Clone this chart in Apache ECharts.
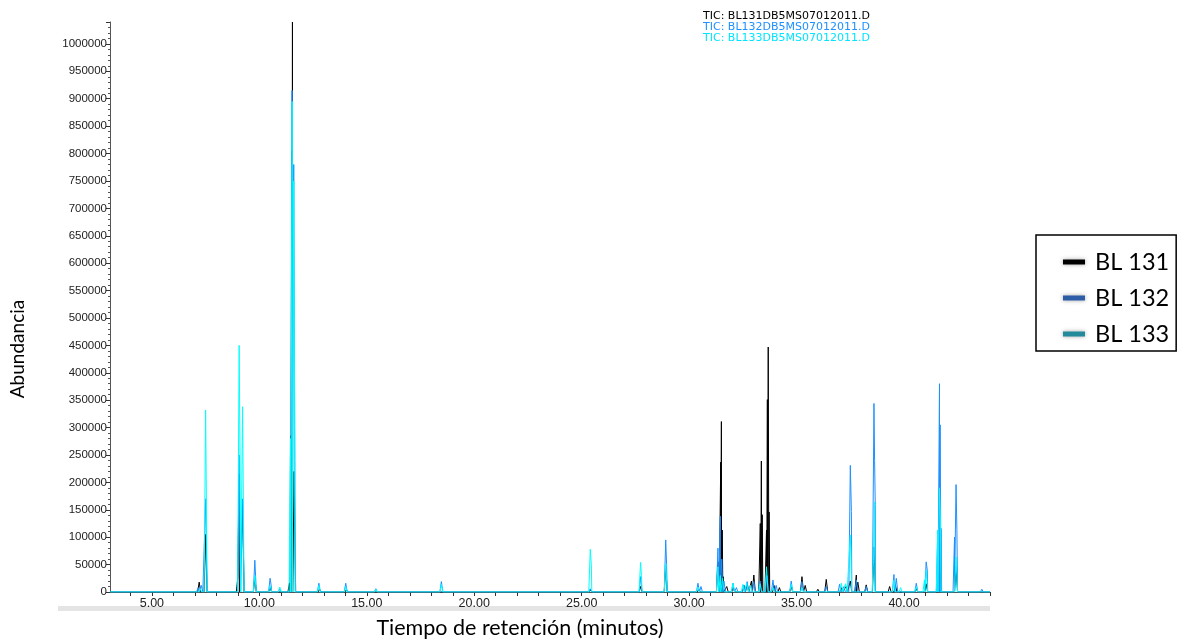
<!DOCTYPE html>
<html>
<head>
	<meta charset="utf-8">
	<title>TIC BL131 - BL133</title>
	<style type="text/css">
		html, body {
			margin: 0;
			padding: 0;
			background: #fff;
		}
		#main {
			width: 1201px;
			height: 640px;
		}
	</style>
	<script src='https://cdn.jsdelivr.net/npm/echarts@6.0.0/dist/echarts.min.js'></script>
</head>
<body>

	<div id="main"></div>

	<script type="text/javascript">
		// sample names and the file names printed in the corner
		var sampleNames = ['BL 131', 'BL 132', 'BL 133'];
		var ticNames = ['TIC: BL131DB5MS07012011.D', 'TIC: BL132DB5MS07012011.D', 'TIC: BL133DB5MS07012011.D'];

		// axis ticks (minutes) and labels
		var xLabelValues = [5, 10, 15, 20, 25, 30, 35, 40];
		var xTickValues = [4, 5, 6, 7, 8, 9, 10, 11, 12, 13, 14, 15, 16, 17, 18, 19, 20, 21, 22, 23, 24,
			25, 26, 27, 28, 29, 30, 31, 32, 33, 34, 35, 36, 37, 38, 39, 40, 41, 42, 43, 44];

		// peaks: [retention time (min), abundance]
		var bl131Peaks = [
			[7.20, 18000], [7.50, 105000], [9.00, 28000], [9.06, 215000], [9.22, 158000], [9.79, 25000],
			[10.50, 8000], [11.40, 16000], [11.45, 285000], [11.50, 805000], [11.54, 1040000], [11.62, 220000],
			[12.30, 3000], [12.80, 5000], [14.05, 4000], [18.50, 3000], [25.40, 4000], [27.74, 10000],
			[28.91, 45000], [30.45, 5000], [31.34, 55000], [31.47, 237000], [31.50, 311000], [31.54, 113000],
			[31.58, 28000], [31.75, 10000], [32.05, 8000], [32.55, 12000], [32.70, 16000], [32.90, 20000],
			[33.01, 31000], [33.31, 125000], [33.36, 239000], [33.40, 141000], [33.60, 113000], [33.64, 351000],
			[33.68, 447000], [33.72, 146000], [33.95, 12000], [34.20, 8000], [34.75, 10000], [35.25, 28000],
			[35.40, 12000], [35.99, 5000], [36.38, 23000], [37.08, 8000], [37.30, 10000], [37.50, 20000],
			[37.78, 31000], [37.85, 18000], [38.24, 13000], [38.60, 82000], [39.33, 10000], [39.60, 12000],
			[40.57, 6000], [41.03, 15000], [41.65, 90000], [42.42, 46000], [43.00, 3000]
		];
		var bl132Peaks = [
			[7.15, 8000], [7.30, 12000], [7.50, 170000], [9.06, 250000], [9.22, 170000], [9.79, 58000],
			[10.50, 25000], [10.55, 12000], [10.95, 6000], [11.52, 915000], [11.60, 780000], [11.65, 240000],
			[12.77, 16000], [14.02, 16000], [15.42, 6000], [18.47, 19000], [25.40, 6000], [27.74, 28000],
			[28.91, 95000], [28.95, 50000], [30.41, 16000], [30.55, 10000], [31.34, 80000], [31.45, 138000],
			[31.52, 60000], [31.62, 20000], [32.04, 16000], [32.20, 8000], [32.55, 12000], [32.70, 19000],
			[33.01, 19000], [33.30, 20000], [33.62, 30000], [33.90, 22000], [34.05, 12000], [34.75, 20000],
			[35.25, 19000], [36.38, 10000], [37.00, 14000], [37.20, 10000], [37.50, 231000], [37.55, 147000],
			[37.78, 22000], [38.24, 10000], [38.60, 344000], [38.63, 240000], [38.66, 160000], [39.53, 32000],
			[39.64, 25000], [40.57, 16000], [41.03, 55000], [41.08, 40000], [41.57, 113000], [41.65, 380000],
			[41.68, 305000], [41.72, 116000], [42.35, 100000], [42.42, 196000], [42.46, 114000], [43.62, 5000]
		];
		var bl133Peaks = [
			[7.25, 6000], [7.50, 332000], [9.06, 450000], [9.10, 253000], [9.22, 338000], [9.79, 30000],
			[10.50, 12000], [10.95, 9000], [11.45, 280000], [11.53, 895000], [11.60, 750000], [11.65, 235000],
			[12.77, 12000], [14.02, 10000], [15.42, 5000], [18.47, 14000], [25.40, 78000], [25.45, 48000],
			[27.74, 54000], [27.78, 30000], [28.91, 52000], [30.41, 9000], [31.34, 46000], [31.45, 30000],
			[31.55, 25000], [32.04, 16000], [32.50, 14000], [32.68, 16000], [32.85, 12000], [33.30, 15000],
			[33.60, 46000], [33.90, 8000], [34.75, 14000], [35.25, 8000], [37.08, 16000], [37.28, 15000],
			[37.50, 104000], [38.58, 58000], [38.62, 164000], [39.53, 22000], [39.84, 8000], [40.57, 10000],
			[40.95, 22000], [41.03, 40000], [41.57, 113000], [41.65, 190000], [41.70, 116000], [42.42, 64000],
			[43.60, 3000]
		];

		var X_MIN = 3.05, X_MAX = 44, Y_MAX = 1040000;
		var PEAK_HALF = 0.07; // half width of a drawn peak, minutes

		var lineColors = ['#000000', '#1e90ff', '#00ffff'];
		var legendColors = ['#000000', '#2e5da8', '#238a9c'];
		var ticColors = ['#000000', '#1e90ff', '#00e5ff'];

		// each peak becomes baseline - top - baseline
		function toLine(peaks) {
			var pts = [];
			for (var i = 0; i < peaks.length; i++) {
				pts.push([peaks[i][0] - PEAK_HALF, 0]);
				pts.push([peaks[i][0], peaks[i][1]]);
				pts.push([peaks[i][0] + PEAK_HALF, 0]);
			}
			pts.sort(function (a, b) { return a[0] - b[0]; });
			pts.unshift([X_MIN, 0]);
			pts.push([X_MAX, 0]);
			return pts;
		}

		var allPeaks = [bl131Peaks, bl132Peaks, bl133Peaks];
		var series = [];
		for (var s = 0; s < allPeaks.length; s++) {
			series.push({
				name: sampleNames[s],
				type: 'line',
				symbol: 'none',
				clip: true,
				color: lineColors[s],
				lineStyle: { width: 1, color: lineColors[s] },
				data: toLine(allPeaks[s])
			});
		}

		var graphics = [];
		for (var k = 0; k < ticNames.length; k++) {
			graphics.push({
				type: 'text', left: 703, top: 11 + k * 11,
				style: { text: ticNames[k], fill: ticColors[k], font: '11px "DejaVu Sans"' }
			});
		}
		graphics.push({
			type: 'text', x: 18, y: 349, rotation: Math.PI / 2,
			style: { text: 'Abundancia', fill: '#000', font: '19px Lato', align: 'center', verticalAlign: 'middle' }
		});
		graphics.push({
			type: 'text', x: 520, y: 628,
			style: { text: 'Tiempo de retención (minutos)', fill: '#000', font: '21.5px Lato', align: 'center', verticalAlign: 'middle' }
		});
		graphics.push({
			type: 'rect', shape: { x: 58, y: 606, width: 932, height: 5 },
			style: { fill: '#e4e4e4' }, z: -1
		});

		var legendData = [];
		for (var j = 0; j < sampleNames.length; j++) {
			legendData.push({
				name: sampleNames[j],
				itemStyle: { color: legendColors[j], shadowBlur: 4, shadowColor: 'rgba(0,0,0,0.35)' }
			});
		}

		var chart = echarts.init(document.getElementById('main'));
		var option = {
			animation: false,
			backgroundColor: '#fff',
			grid: { left: 110, right: 211, top: 22, bottom: 48 },
			legend: {
				orient: 'vertical',
				left: 1036,
				top: 235,
				padding: [15, 7, 5, 27],
				itemGap: 12,
				itemWidth: 22,
				itemHeight: 5,
				icon: 'rect',
				borderColor: '#000',
				borderWidth: 1.5,
				textStyle: { fontFamily: 'Lato', fontSize: 23.5, color: '#000', padding: [0, 0, 0, 5] },
				data: legendData
			},
			xAxis: {
				type: 'value',
				min: X_MIN,
				max: X_MAX,
				splitLine: { show: false },
				axisLine: { lineStyle: { color: '#555' } },
				axisTick: { customValues: xTickValues, length: 4, lineStyle: { color: '#333' } },
				axisLabel: {
					customValues: xLabelValues,
					margin: 5,
					color: '#222',
					fontFamily: 'Liberation Sans',
					fontSize: 12.5,
					formatter: function (v) { return v.toFixed(2); }
				}
			},
			yAxis: {
				type: 'value',
				min: 0,
				max: Y_MAX,
				interval: 50000,
				splitLine: { show: false },
				axisLine: { show: true, lineStyle: { color: '#555' } },
				axisTick: { length: 4, lineStyle: { color: '#333' } },
				minorTick: { show: true, splitNumber: 5, length: 2, lineStyle: { color: '#555' } },
				axisLabel: {
					showMaxLabel: false,
					margin: 3,
					color: '#222',
					fontFamily: 'Liberation Sans',
					fontSize: 11.5,
					formatter: function (v) { return String(v); }
				}
			},
			graphic: graphics,
			series: series
		};

		chart.setOption(option);
	</script>
</body>
</html>
